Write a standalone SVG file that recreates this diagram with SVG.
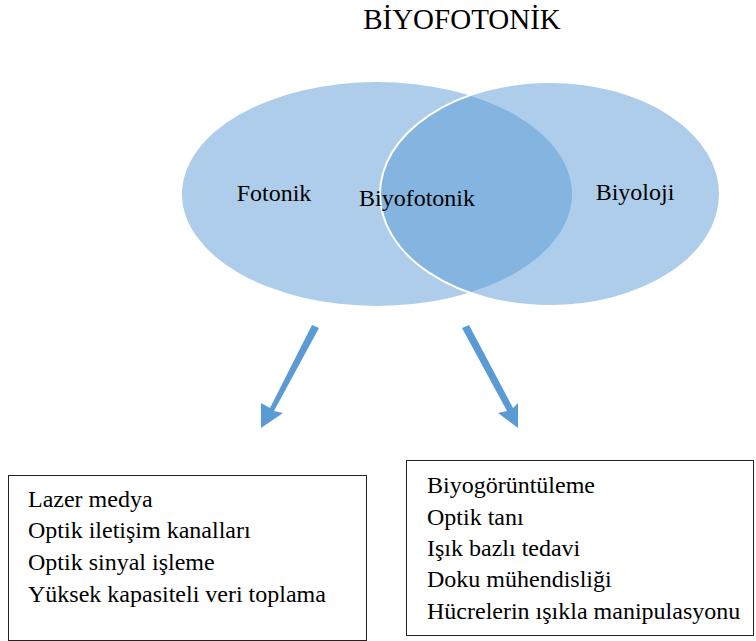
<svg xmlns="http://www.w3.org/2000/svg" width="756" height="641" viewBox="0 0 756 641">
<style>
text{font-family:"Liberation Serif","Times New Roman",serif;fill:#000}
.lbl{font-size:24px}
.item{font-size:24px}
.venn{fill:#5B9BD5;fill-opacity:0.5}
.box{fill:#fff;stroke:#222;stroke-width:1}
.arr{fill:#5B9BD5}
</style>
<rect width="756" height="641" fill="#fff"/>
<text x="462" y="29" font-size="29" text-anchor="middle">BİYOFOTONİK</text>
<g id="fotonik">
<ellipse class="venn" cx="377" cy="194" rx="195" ry="112"/>
</g>
<g id="biyoloji">
<ellipse class="venn" cx="550" cy="194" rx="170" ry="112" stroke="#fff" stroke-width="2"/>
</g>
<g id="labels">
<text class="lbl" x="274" y="201" text-anchor="middle">Fotonik</text>
<text class="lbl" x="417" y="206" text-anchor="middle">Biyofotonik</text>
<text class="lbl" x="635" y="200" text-anchor="middle">Biyoloji</text>
</g>
<g id="connectors">
<polygon class="arr" points="312,325 319,328 274,411 283,413 261,428 261,403 270,408"/>
<polygon class="arr" points="462,328 469,325 513,408 518,403 518,428 498,413 507,411"/>
</g>
<g id="box-fotonik">
<rect class="box" x="8.5" y="475.5" width="358" height="165"/>
<text class="item" x="28" y="507">Lazer medya</text>
<text class="item" x="28" y="538">Optik iletişim kanalları</text>
<text class="item" x="28" y="570">Optik sinyal işleme</text>
<text class="item" x="28" y="602">Yüksek kapasiteli veri toplama</text>
</g>
<g id="box-biyoloji">
<rect class="box" x="406.5" y="460.5" width="347" height="175"/>
<text class="item" x="427" y="493">Biyogörüntüleme</text>
<text class="item" x="427" y="525">Optik tanı</text>
<text class="item" x="427" y="556">Işık bazlı tedavi</text>
<text class="item" x="427" y="587">Doku mühendisliği</text>
<text class="item" x="427" y="619">Hücrelerin ışıkla manipulasyonu</text>
</g>
</svg>
